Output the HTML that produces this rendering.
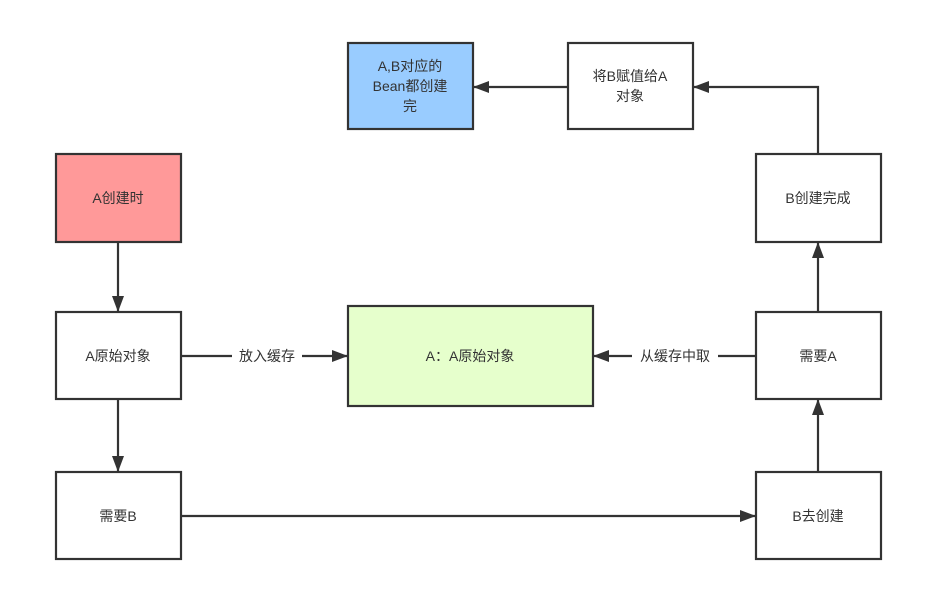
<!DOCTYPE html>
<html><head><meta charset="utf-8"><style>
html,body{margin:0;padding:0;background:#fff;}
text{font-family:"Liberation Sans","Noto Sans CJK SC",sans-serif;font-size:14px;fill:#333;}
</style></head><body>
<svg width="928" height="587" viewBox="0 0 928 587" xmlns="http://www.w3.org/2000/svg">
<defs><marker id="a" markerWidth="10" markerHeight="10" refX="9" refY="5" orient="auto" markerUnits="userSpaceOnUse"><path d="M0,0 L10,5 L0,10 Z" fill="#333"/></marker>
<marker id="b" markerWidth="16" markerHeight="12" refX="15" refY="6" orient="auto" markerUnits="userSpaceOnUse"><path d="M0,0 L16,6 L0,12 Z" fill="#333"/></marker></defs>
<g stroke="#333" stroke-width="2.2">
<rect x="348" y="43" width="125" height="86" fill="#99CCFF"/>
<rect x="568" y="43" width="125" height="86" fill="#fff"/>
<rect x="56" y="154" width="125" height="88" fill="#FF9999"/>
<rect x="756" y="154" width="125" height="88" fill="#fff"/>
<rect x="56" y="312" width="125" height="87" fill="#fff"/>
<rect x="348" y="306" width="245" height="100" fill="#E6FFCC"/>
<rect x="756" y="312" width="125" height="87" fill="#fff"/>
<rect x="56" y="472" width="125" height="87" fill="#fff"/>
<rect x="756" y="472" width="125" height="87" fill="#fff"/>
</g>
<g stroke="#333" stroke-width="2.2" fill="none">
<line x1="118" y1="242" x2="118" y2="311" marker-end="url(#b)"/>
<line x1="118" y1="399" x2="118" y2="471" marker-end="url(#b)"/>
<line x1="181" y1="356" x2="347" y2="356" marker-end="url(#b)"/>
<line x1="756" y1="356" x2="594" y2="356" marker-end="url(#b)"/>
<line x1="181" y1="516" x2="755" y2="516" marker-end="url(#b)"/>
<line x1="818" y1="472" x2="818" y2="400" marker-end="url(#b)"/>
<line x1="818" y1="312" x2="818" y2="243" marker-end="url(#b)"/>
<polyline points="818,154 818,87 694,87" marker-end="url(#b)"/>
<line x1="568" y1="87" x2="474" y2="87" marker-end="url(#b)"/>
</g>
<rect x="232" y="346" width="70" height="20" fill="#fff"/>
<rect x="632" y="346" width="86" height="20" fill="#fff"/>
<g text-anchor="middle">
<text x="410" y="71">A,B对应的</text>
<text x="410" y="91">Bean都创建</text>
<text x="410" y="111">完</text>
<text x="630" y="81">将B赋值给A</text>
<text x="630" y="101">对象</text>
<text x="118" y="203">A创建时</text>
<text x="818" y="203">B创建完成</text>
<text x="118" y="361">A原始对象</text>
<text x="470" y="361">A：A原始对象</text>
<text x="818" y="361">需要A</text>
<text x="118" y="521">需要B</text>
<text x="818" y="521">B去创建</text>
<text x="267" y="361">放入缓存</text>
<text x="675" y="361">从缓存中取</text>
</g>
</svg>
</body></html>
